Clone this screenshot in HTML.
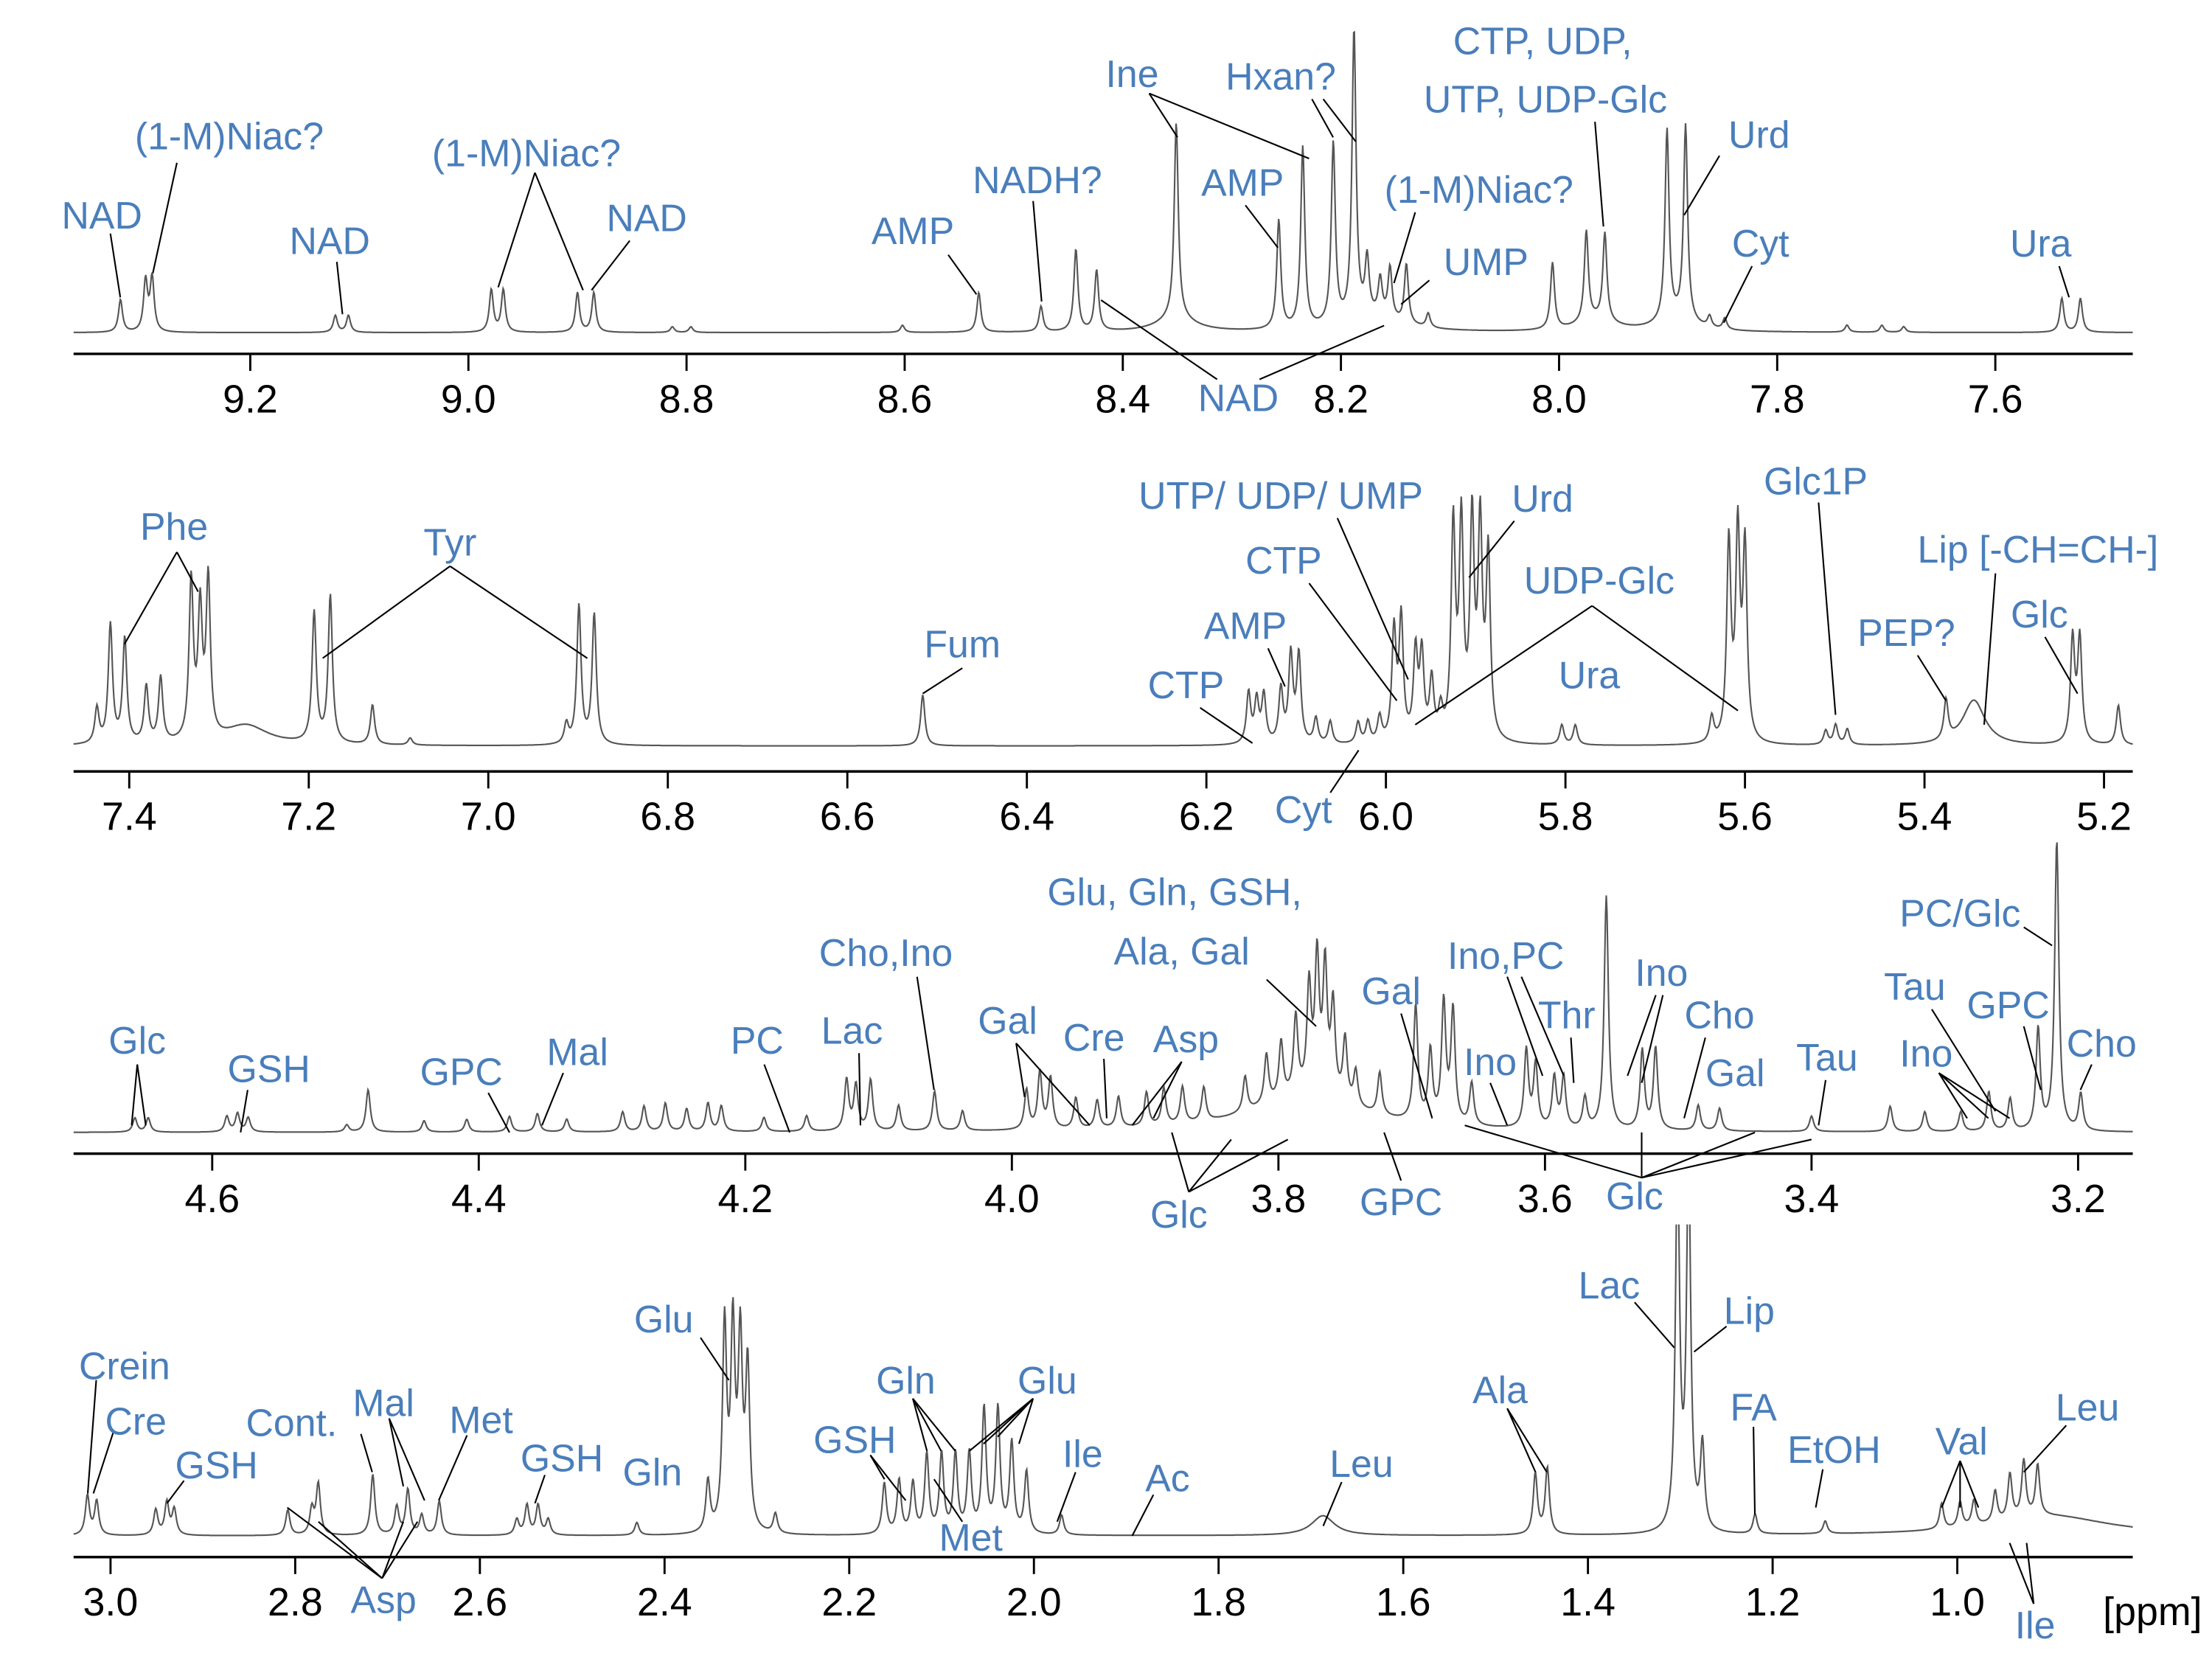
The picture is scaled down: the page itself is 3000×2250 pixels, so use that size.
<!DOCTYPE html>
<html><head><meta charset="utf-8"><style>
html,body{margin:0;padding:0;background:#fff;}
svg{display:block;}
.t{font-family:"Liberation Sans",sans-serif;font-size:28px;fill:#000;}
.l{font-family:"Liberation Sans",sans-serif;font-size:27px;fill:#4a7ebb;}
</style></head><body>
<svg id="chart" width="3000" height="2250" viewBox="0 0 1563 1172" preserveAspectRatio="none" xmlns="http://www.w3.org/2000/svg">
<defs><clipPath id="clip4"><rect x="0" y="865" width="1563" height="300"/></clipPath></defs>
<g id="spectra"></g>
<g id="axes"></g>
<g id="labels"></g>
<text class="t" x="1556" y="1148" text-anchor="end">[ppm]</text>
</svg>
<script>
// ---- data: peaks [ppm, intensity, (width ppm)] ----
const peaks1=[[9.319,23],[9.296,36],[9.290,38],[9.122,12],[9.110,12],[8.979,30],[8.968,30],[8.900,28],[8.885,28],[8.813,4],[8.796,4],[8.602,5],[8.532,28],[8.475,18],[8.443,58],[8.424,43],[8.351,138],[8.351,10,0.02],[8.257,77],[8.235,128],[8.207,128],[8.188,205],[8.176,40],[8.164,26],[8.155,36],[8.140,42],[8.17,10,0.03],[8.120,10],[8.006,47],[7.975,64],[7.958,62],[7.966,8,0.02],[7.901,135],[7.884,138],[7.892,8,0.02],[7.862,8],[7.848,8],[7.736,5],[7.704,5],[7.684,4],[7.539,24],[7.522,24]];
const peaks2=[[7.436,25],[7.421,84],[7.405,74],[7.381,40],[7.365,46],[7.331,112],[7.321,90],[7.312,112],[7.27,14,0.03],[7.194,92],[7.176,104],[7.129,28],[7.087,5],[6.913,14],[6.899,98],[6.882,92],[6.516,36],[6.153,36],[6.144,30],[6.136,34],[6.117,38],[6.106,62],[6.097,62],[6.078,18],[6.062,16],[6.031,15],[6.020,15],[6.007,18],[5.991,78],[5.983,86],[5.967,62],[5.960,60],[5.949,42],[5.939,20],[5.925,150],[5.916,150],[5.904,152],[5.895,148],[5.886,130],[5.804,14],[5.789,14],[5.637,18],[5.618,140],[5.608,145],[5.600,135],[5.510,10],[5.499,14],[5.486,11],[5.376,28],[5.345,32,0.015],[5.235,74],[5.227,74],[5.184,28]];
const peaks3=[[4.658,10],[4.648,10],[4.589,11],[4.581,13],[4.573,10],[4.499,5],[4.483,30],[4.441,8],[4.409,9],[4.377,11],[4.356,13],[4.334,9],[4.292,14],[4.276,18],[4.260,20],[4.244,16],[4.228,20],[4.218,18],[4.186,10],[4.154,11],[4.124,36],[4.117,32],[4.106,36],[4.085,18],[4.058,28],[4.037,14],[3.989,28],[3.979,40],[3.971,36],[3.952,22],[3.936,20],[3.920,22],[3.899,24],[3.886,26],[3.872,26],[3.856,24],[3.78,25,0.05],[3.825,25],[3.809,35],[3.798,40],[3.787,55],[3.777,75],[3.771,95],[3.765,90],[3.759,65],[3.750,45],[3.742,25],[3.724,30],[3.697,82],[3.686,50],[3.676,85],[3.669,80],[3.655,30],[3.614,55],[3.607,45],[3.593,36],[3.586,36],[3.570,22],[3.554,165],[3.527,56],[3.517,58],[3.485,18],[3.469,16],[3.400,11],[3.341,18],[3.315,14],[3.288,14],[3.267,28],[3.251,23],[3.230,72],[3.216,205],[3.198,26]];
const peaks4=[[3.025,28],[3.015,24],[2.951,18],[2.939,23],[2.931,18],[2.808,18],[2.782,18],[2.775,36],[2.716,43],[2.690,20],[2.678,32],[2.663,14],[2.644,24],[2.560,11],[2.549,21],[2.537,21],[2.526,11],[2.430,9],[2.353,36],[2.335,145],[2.326,140],[2.318,132],[2.310,115],[2.280,14],[2.162,36],[2.146,38],[2.131,36],[2.116,56],[2.100,56],[2.085,56],[2.070,56],[2.054,88],[2.039,88],[2.024,64],[2.008,44],[1.970,14],[1.687,14,0.015],[1.457,43],[1.444,47],[1.303,260],[1.291,260],[1.276,60],[1.219,14],[1.143,9],[1.017,18],[0.997,18],[0.982,18],[0.959,22],[0.943,32],[0.928,40],[0.913,36],[0.90,14,0.08]];
// ---- tick labels ----
const ticks1=[9.2,9.0,8.8,8.6,8.4,8.2,8.0,7.8,7.6];
const ticks2=[7.4,7.2,7.0,6.8,6.6,6.4,6.2,6.0,5.8,5.6,5.4,5.2];
const ticks3=[4.6,4.4,4.2,4.0,3.8,3.6,3.4,3.2];
const ticks4=[3.0,2.8,2.6,2.4,2.2,2.0,1.8,1.6,1.4,1.2,1.0];

// ---- layout ----
const panels=[
 {peaks:peaks1,ticks:ticks1,left:9.362,right:7.474,base:235,axis:250,w:0.0022,name:'panel-1'},
 {peaks:peaks2,ticks:ticks2,left:7.462,right:5.168,base:527,axis:545,w:0.0028,name:'panel-2'},
 {peaks:peaks3,ticks:ticks3,left:4.704,right:3.159,base:800,axis:815,w:0.0019,name:'panel-3'},
 {peaks:peaks4,ticks:ticks4,left:3.04,right:0.81,base:1085,axis:1100,w:0.0027,name:'panel-4'}];
const X0=52,X1=1507,NS='http://www.w3.org/2000/svg';
function mk(tag,attrs,parent){const e=document.createElementNS(NS,tag);for(const k in attrs)e.setAttribute(k,attrs[k]);parent.appendChild(e);return e;}
const gS=document.getElementById('spectra'),gA=document.getElementById('axes'),gL=document.getElementById('labels');
panels.forEach((p,i)=>{
 const xs=v=>X0+(p.left-v)/(p.left-p.right)*(X1-X0);
 const inv=x=>p.left-(x-X0)/(X1-X0)*(p.left-p.right);
 let d='';
 for(let x=X0;x<=X1;x+=0.5){
  const v=inv(x);let s=0;
  p.peaks.forEach(pk=>{const w=pk[2]||p.w;const dx=v-pk[0];s+=pk[1]*w*w/(dx*dx+w*w);});
  d+=(x===X0?'M':'L')+x.toFixed(1)+','+(p.base-s).toFixed(1);
 }
 const path=mk('path',{d:d,fill:'none',stroke:'#555','stroke-width':1.1},gS);
 
 
 if(i===3)path.setAttribute('clip-path','url(#clip4)');
 const ax=mk('line',{x1:X0,x2:X1,y1:p.axis,y2:p.axis,stroke:'#000','stroke-width':1.8},gA);
 
 
 p.ticks.forEach(t=>{
  const x=xs(t);
  const tk=mk('line',{x1:x,x2:x,y1:p.axis,y2:p.axis+12,stroke:'#000','stroke-width':1.5},gA);
  
  
  const tl=mk('text',{x:x,y:p.axis+32,'text-anchor':'middle','dominant-baseline':'central',class:'t'},gA);
  tl.textContent=t.toFixed(1);
  
  
 });
});
// ---- annotation labels [text,x,y] and leader lines ----
const labels=[["NAD",72,152],["(1-M)Niac?",162,96],["NAD",233,170],["(1-M)Niac?",372,108],["NAD",457,154],["AMP",645,163],["NADH?",733,127],["Ine",800,52],["AMP",878,129],["Hxan?",905,54],["(1-M)Niac?",1045,134],["CTP, UDP,",1090,29],["UTP, UDP-Glc",1092,70],["Urd",1243,95],["Cyt",1244,172],["UMP",1050,185],["Ura",1442,172],["NAD",875,281],
["Phe",123,372],["Tyr",318,383],["Fum",680,455],["AMP",880,442],["CTP",838,484],["UTP/ UDP/ UMP",905,350],["CTP",907,396],["Urd",1090,352],["UDP-Glc",1130,410],["Ura",1123,477],["Glc1P",1283,340],["Lip [-CH=CH-]",1440,388],["PEP?",1347,447],["Glc",1441,434],["Cyt",921,572],
["Glc",97,735],["GSH",190,755],["GPC",326,757],["Mal",408,743],["PC",535,735],["Lac",602,728],["Cho,Ino",626,673],["Gal",712,721],["Cre",773,733],["Asp",838,734],["Glu, Gln, GSH,",830,630],["Ala, Gal",835,672],["Gal",983,700],["Ino,PC",1064,675],["Thr",1107,717],["Ino",1174,687],["Cho",1215,717],["Ino",1053,750],["Gal",1226,758],["Tau",1291,747],["Tau",1353,697],["Ino",1361,744],["GPC",1419,710],["PC/Glc",1385,645],["Cho",1485,737],["Glc",833,858],["GPC",990,849],["Glc",1155,845],
["Crein",88,965],["Cre",96,1004],["GSH",153,1035],["Cont.",206,1005],["Mal",271,991],["Met",340,1003],["GSH",397,1030],["Gln",461,1040],["Glu",469,932],["GSH",604,1017],["Gln",640,975],["Glu",740,975],["Met",686,1086],["Ile",765,1027],["Ac",825,1044],["Leu",962,1034],["Lac",1137,908],["Lip",1236,926],["Ala",1060,982],["FA",1239,994],["EtOH",1296,1024],["Val",1386,1018],["Leu",1475,994],["Asp",271,1130],["Ile",1438,1148]];
const leaders=[[78,165,85,210],[125,115,108,193],[238,185,242,222],[378,122,352,203],[378,122,412,205],[445,170,418,205],[670,180,690,208],[730,142,736,213],[812,66,832,97],[812,66,925,112],[880,145,903,175],[927,70,942,97],[935,70,958,100],[1000,150,985,200],[1127,86,1133,160],[1215,110,1190,152],[1238,188,1218,228],[1455,188,1462,210],[1010,198,990,215],[778,212,860,268],[978,230,890,268],
[125,390,88,455],[125,390,140,418],[318,400,228,465],[318,400,415,465],[680,472,652,490],[896,458,908,485],[848,500,885,525],[945,366,995,480],[925,412,987,495],[1070,368,1038,408],[1125,428,1000,512],[1125,428,1228,502],[1285,355,1297,505],[1410,405,1402,512],[1355,463,1375,495],[1445,450,1468,490],[940,560,960,530],
[97,752,93,795],[97,752,103,795],[175,770,170,800],[345,772,360,800],[398,758,383,795],[540,752,558,800],[607,744,608,795],[648,690,660,770],[718,737,724,775],[718,737,770,795],[780,748,782,790],[835,750,800,795],[835,750,815,790],[895,692,930,725],[990,716,1012,790],[1065,690,1090,760],[1075,690,1105,760],[1110,733,1112,765],[1170,703,1150,760],[1175,703,1160,765],[1205,733,1190,790],[1053,765,1065,795],[1290,763,1285,795],[1365,713,1410,785],[1370,758,1390,790],[1370,758,1405,790],[1370,758,1420,790],[1430,725,1442,770],[1430,655,1450,668],[1478,752,1470,770],
[840,842,870,805],[840,842,910,805],[840,842,828,800],[1160,832,1035,795],[1160,832,1280,805],[1160,832,1240,800],[1160,832,1160,800],[990,834,978,800],
[68,975,62,1055],[80,1012,66,1055],[130,1046,118,1062],[255,1013,263,1040],[275,1002,285,1050],[275,1002,300,1060],[330,1014,310,1060],[385,1042,378,1062],[495,945,515,975],[615,1028,625,1045],[615,1028,640,1060],[645,988,655,1025],[645,988,665,1025],[645,988,675,1025],[730,988,685,1025],[730,988,695,1020],[730,988,705,1015],[730,988,720,1020],[680,1075,660,1045],[760,1040,747,1075],[815,1056,800,1085],[948,1047,935,1078],[1155,920,1183,952],[1220,937,1197,955],[1065,995,1085,1040],[1065,995,1093,1040],[1239,1008,1240,1070],[1288,1038,1283,1065],[1385,1032,1372,1065],[1385,1032,1385,1065],[1385,1032,1398,1065],[1460,1007,1430,1040],[270,1115,203,1065],[270,1115,225,1075],[270,1115,285,1075],[270,1115,295,1075],[1437,1133,1420,1090],[1437,1133,1432,1090]];
leaders.forEach(a=>{
 const ln=mk('line',{x1:a[0],y1:a[1],x2:a[2],y2:a[3],stroke:'#000','stroke-width':1.1},gL);
 
 
});
labels.forEach(a=>{
 const t=mk('text',{x:a[1],y:a[2],'text-anchor':'middle','dominant-baseline':'central',class:'l'},gL);
 t.textContent=a[0];
 
 
});
</script>
</body></html>
